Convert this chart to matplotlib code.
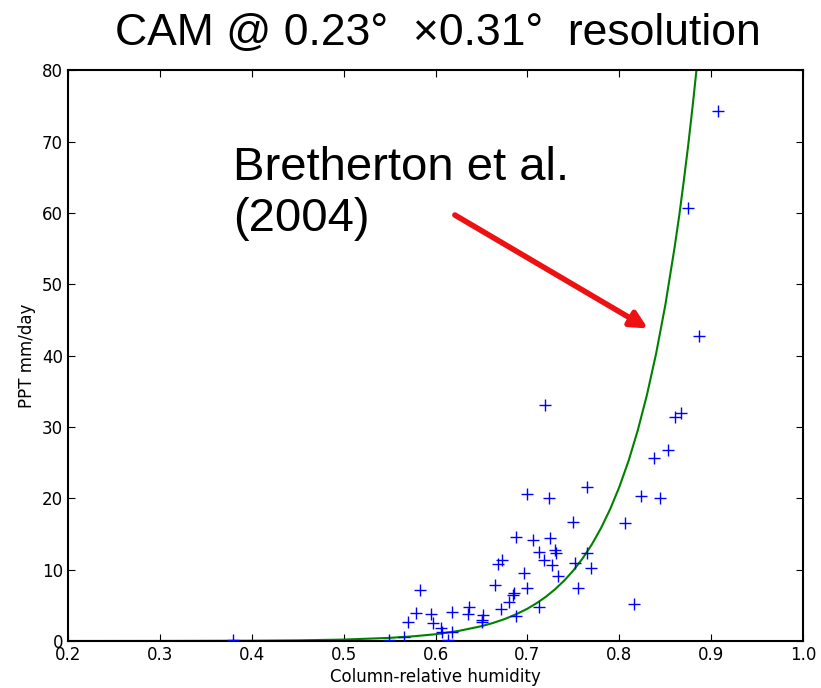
import numpy as np
from matplotlib import pyplot as plt

# scatter points (column-relative humidity, PPT mm/day)
crh = [0.907, 0.875, 0.887, 0.719, 0.861, 0.867, 0.853, 0.838,
       0.700, 0.723, 0.765, 0.824, 0.844, 0.750, 0.806,
       0.688, 0.706, 0.725, 0.713, 0.730, 0.731, 0.718, 0.727, 0.733,
       0.672, 0.668, 0.696, 0.752, 0.765, 0.769, 0.665, 0.700,
       0.685, 0.684, 0.755, 0.680, 0.671, 0.713, 0.688, 0.652,
       0.651, 0.650, 0.816,
       0.583, 0.579, 0.595, 0.570, 0.597, 0.618, 0.636, 0.635,
       0.606, 0.607, 0.618, 0.613, 0.549, 0.566, 0.380]
ppt = [74.3, 60.7, 42.7, 33.1, 31.4, 31.9, 26.8, 25.6,
       20.6, 20.1, 21.6, 20.3, 20.1, 16.7, 16.5,
       14.6, 14.2, 14.5, 12.5, 12.8, 12.4, 11.4, 10.7, 9.1,
       11.3, 10.8, 9.5, 11.0, 12.3, 10.2, 7.8, 7.4,
       6.7, 6.5, 7.4, 5.4, 4.5, 4.7, 3.5, 3.7,
       2.9, 2.6, 5.2,
       7.2, 3.9, 3.8, 2.6, 2.5, 4.1, 4.8, 3.8,
       1.8, 1.3, 1.2, 0.1, 0.1, 0.5, 0.2]

# Bretherton et al. (2004) curve
curve_x = [0.20, 0.30, 0.40, 0.45, 0.50, 0.55, 0.575, 0.60, 0.625,
           0.65, 0.6625, 0.675, 0.6875, 0.70, 0.71, 0.72, 0.73, 0.74,
           0.75, 0.76, 0.77, 0.78, 0.79, 0.80, 0.81, 0.82, 0.83, 0.84,
           0.85, 0.86, 0.865, 0.87, 0.875, 0.88, 0.885]
curve_y = [0.002, 0.009, 0.042, 0.09, 0.20, 0.44, 0.65, 0.95, 1.41,
           2.08, 2.53, 3.07, 3.74, 4.53, 5.31, 6.20, 7.25, 8.47,
           9.90, 11.58, 13.53, 15.82, 18.49, 21.61, 25.25, 29.52, 34.5, 40.3,
           47.1, 55.1, 59.5, 64.4, 69.6, 75.3, 81.4]

fig = plt.figure(figsize=(8.21, 6.88), dpi=100)
ax = fig.add_axes([0.0828, 0.0683, 0.8955, 0.8297])

ax.plot(curve_x, curve_y, color='#008000', lw=1.5, zorder=2)
ax.plot(crh, ppt, '+', color='b', ms=8, mew=1.0, zorder=3)

ax.set_xlim(0.2, 1.0)
ax.set_ylim(0, 80)
ax.set_xticks(np.arange(0.2, 1.01, 0.1))
ax.set_yticks(np.arange(0, 81, 10))
ax.tick_params(direction='in', top=True, right=True, length=5, labelsize=12)
for s in ax.spines.values():
    s.set_linewidth(1.5)
ax.set_xlabel('Column-relative humidity', fontsize=12, labelpad=3)
ax.set_ylabel('PPT mm/day', fontsize=12)

fig.text(0.533, 0.951, 'CAM @ 0.23\u00b0  \u00d70.31\u00b0  resolution',
         family='Liberation Sans', fontsize=32, ha='center', va='center')

ax.text(0.38, 64.6, 'Bretherton et al.', family='Liberation Sans',
        fontsize=34, ha='left', va='baseline')
ax.text(0.38, 57.4, '(2004)', family='Liberation Sans',
        fontsize=34, ha='left', va='baseline')
ax.annotate('', xy=(0.831, 43.8), xytext=(0.621, 59.7),
            arrowprops=dict(arrowstyle='-|>,head_length=1.0,head_width=0.5',
                            color='#ee1111', lw=4, shrinkA=0, shrinkB=0))

plt.savefig('out.png')
